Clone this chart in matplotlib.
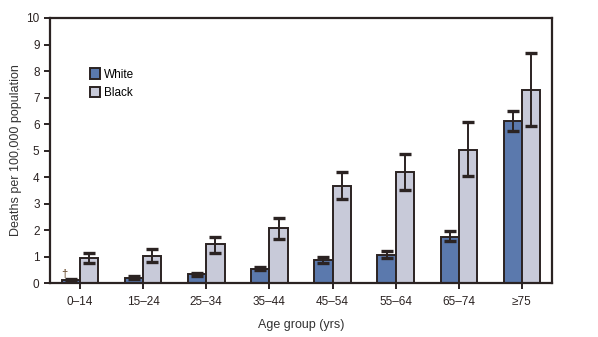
import numpy as np
import matplotlib.pyplot as plt

plt.rcParams['font.family'] = ['Liberation Sans', 'DejaVu Sans']

# 資料
groups = ['0–14', '15–24', '25–34', '35–44', '45–54', '55–64', '65–74', '≥75']
white = [0.10, 0.21, 0.33, 0.55, 0.86, 1.07, 1.75, 6.12]
white_lo = [0.06, 0.17, 0.28, 0.48, 0.75, 0.96, 1.58, 5.75]
white_hi = [0.14, 0.25, 0.38, 0.62, 0.97, 1.20, 1.96, 6.48]
black = [0.93, 1.04, 1.47, 2.09, 3.67, 4.20, 5.03, 7.27]
black_lo = [0.74, 0.79, 1.13, 1.66, 3.16, 3.52, 4.03, 5.91]
black_hi = [1.12, 1.29, 1.75, 2.47, 4.18, 4.86, 6.06, 8.69]

edge = '#2b2322'
c_white = '#5b79ad'
c_black = '#c8cad9'

fig = plt.figure(figsize=(5.98, 3.37), dpi=100)
ax = fig.add_axes([0.0836, 0.160, 0.8395, 0.7866])

x = np.arange(len(groups))
w = 0.29
white = np.array(white)
black = np.array(black)
err_w = [white - np.array(white_lo), np.array(white_hi) - white]
err_b = [black - np.array(black_lo), np.array(black_hi) - black]

ekw = dict(ecolor=edge, elinewidth=1.4, capsize=4.3, capthick=2.4)
ax.bar(x - w / 2, white, w, color=c_white, edgecolor=edge, linewidth=1.4,
       yerr=err_w, error_kw=ekw, label='White')
ax.bar(x + w / 2, black, w, color=c_black, edgecolor=edge, linewidth=1.4,
       yerr=err_b, error_kw=ekw, label='Black')

# 註記符號
ax.text(x[0] - w / 2 - 0.1, white_hi[0] + 0.03, '†', fontsize=8, color='#5a3a1a',
        ha='center', va='bottom')

ax.set_xlim(-0.476, 7.476)
ax.set_ylim(0, 10)
ax.set_yticks(range(0, 11))
ax.set_xticks(x)
ax.set_xticklabels(groups)
ax.tick_params(axis='both', labelsize=8.5, colors=edge, width=1.4, length=4)
ax.tick_params(axis='x', pad=5)
for s in ax.spines.values():
    s.set_linewidth(1.6)
    s.set_color(edge)

ax.set_xlabel('Age group (yrs)', fontsize=9, color='#333333', labelpad=8)
ax.set_ylabel('Deaths per 100,000 population', fontsize=9, color='#333333', labelpad=3)

leg = ax.legend(loc='upper left', bbox_to_anchor=(0.058, 0.85), frameon=False,
                fontsize=8.5, handlelength=0.85, handleheight=0.95,
                handletextpad=0.35, labelspacing=0.55)

fig.savefig('out.png', dpi=100)
